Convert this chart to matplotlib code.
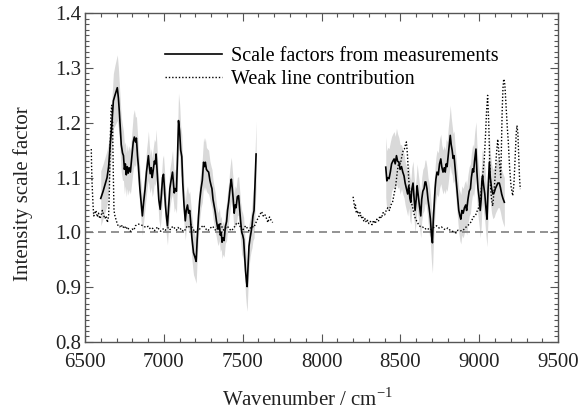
import numpy as np
import matplotlib
matplotlib.use("Agg")
import matplotlib.pyplot as plt
from matplotlib.lines import Line2D
from matplotlib.ticker import MultipleLocator

# scale factors from measurements, low-wavenumber window
left_x = [6600, 6615, 6630, 6640, 6650, 6660, 6670, 6680, 6690, 6705, 6712, 6718, 6724, 6730,
          6738, 6744, 6750, 6756, 6762, 6768, 6774, 6780, 6788, 6798, 6806, 6813, 6820, 6826,
          6833, 6839, 6848, 6856, 6864, 6872, 6881, 6890, 6897, 6902, 6908, 6914, 6920, 6926,
          6932, 6940, 6946, 6951, 6956, 6962, 6968, 6977, 6985, 6992, 6998, 7004, 7010, 7016,
          7023, 7030, 7038, 7046, 7055, 7061, 7066, 7072, 7080, 7087, 7093, 7100, 7107, 7114,
          7120, 7128, 7136, 7142, 7150, 7157, 7164, 7170, 7178, 7188, 7197, 7205, 7212, 7220,
          7228, 7236, 7244, 7252, 7258, 7263, 7270, 7277, 7284, 7292, 7300, 7305, 7312, 7318,
          7326, 7334, 7340, 7345, 7352, 7358, 7364, 7369, 7375, 7382, 7390, 7398, 7404, 7411,
          7418, 7424, 7428, 7434, 7440, 7446, 7452, 7458, 7466, 7474, 7480, 7487, 7494, 7500,
          7506, 7512, 7518, 7524, 7528, 7534, 7540, 7547, 7553, 7559, 7565, 7572, 7578, 7585]
left_y = [1.062, 1.075, 1.090, 1.100, 1.120, 1.160, 1.195, 1.240, 1.250, 1.264, 1.245, 1.220, 1.190, 1.160,
          1.145, 1.140, 1.115, 1.125, 1.105, 1.120, 1.108, 1.118, 1.110, 1.140, 1.165, 1.174, 1.165, 1.172,
          1.140, 1.120, 1.080, 1.055, 1.030, 1.055, 1.079, 1.110, 1.128, 1.140, 1.120, 1.107, 1.118, 1.100,
          1.112, 1.130, 1.125, 1.143, 1.120, 1.090, 1.060, 1.042, 1.070, 1.100, 1.106, 1.080, 1.050, 1.030,
          1.012, 1.045, 1.080, 1.095, 1.110, 1.090, 1.072, 1.080, 1.075, 1.140, 1.204, 1.185, 1.150, 1.138,
          1.090, 1.050, 1.021, 1.040, 1.050, 1.035, 1.040, 1.020, 0.990, 0.963, 0.955, 0.947, 0.990, 1.030,
          1.060, 1.080, 1.095, 1.128, 1.120, 1.128, 1.115, 1.112, 1.110, 1.095, 1.085, 1.080, 1.060, 1.050,
          1.037, 1.020, 1.010, 1.006, 1.015, 0.995, 1.000, 0.982, 0.990, 0.985, 1.010, 1.020, 1.040, 1.055,
          1.075, 1.090, 1.097, 1.080, 1.060, 1.035, 1.050, 1.045, 1.065, 1.067, 1.045, 1.020, 1.000, 0.995,
          0.987, 0.960, 0.930, 0.910, 0.901, 0.940, 0.975, 0.990, 1.000, 1.012, 1.030, 1.040, 1.090, 1.143]
left_err = [0.05, 0.05, 0.05, 0.05, 0.045, 0.045, 0.045, 0.05, 0.055, 0.06, 0.055, 0.05, 0.05, 0.05,
            0.05, 0.045, 0.045, 0.04, 0.04, 0.04, 0.04, 0.04, 0.04, 0.045, 0.05, 0.05, 0.045, 0.04,
            0.04, 0.035, 0.035, 0.035, 0.035, 0.035, 0.035, 0.04, 0.04, 0.045, 0.04, 0.035, 0.035, 0.035,
            0.04, 0.04, 0.04, 0.045, 0.04, 0.035, 0.035, 0.035, 0.035, 0.035, 0.035, 0.035, 0.035, 0.035,
            0.035, 0.035, 0.035, 0.035, 0.04, 0.035, 0.035, 0.035, 0.04, 0.045, 0.05, 0.05, 0.045, 0.04,
            0.035, 0.035, 0.035, 0.035, 0.035, 0.035, 0.035, 0.035, 0.04, 0.04, 0.04, 0.04, 0.035, 0.035,
            0.035, 0.035, 0.04, 0.045, 0.045, 0.045, 0.04, 0.04, 0.04, 0.035, 0.035, 0.035, 0.035, 0.035,
            0.035, 0.03, 0.03, 0.03, 0.03, 0.03, 0.03, 0.03, 0.03, 0.03, 0.03, 0.035, 0.035, 0.035,
            0.04, 0.04, 0.04, 0.035, 0.035, 0.035, 0.035, 0.035, 0.035, 0.035, 0.035, 0.035, 0.04, 0.04,
            0.04, 0.04, 0.045, 0.045, 0.045, 0.04, 0.04, 0.035, 0.035, 0.04, 0.045, 0.05, 0.055, 0.06]

# scale factors from measurements, high-wavenumber window
right_x = [8407, 8414, 8420, 8428, 8436, 8444, 8452, 8460, 8467, 8475, 8482, 8490, 8498, 8507,
           8515, 8523, 8530, 8538, 8546, 8553, 8560, 8566, 8572, 8580, 8586, 8593, 8600, 8606,
           8612, 8620, 8629, 8635, 8642, 8650, 8656, 8661, 8668, 8675, 8682, 8690, 8697, 8703,
           8708, 8714, 8720, 8725, 8732, 8740, 8748, 8756, 8762, 8770, 8778, 8784, 8790, 8796,
           8803, 8810, 8816, 8822, 8828, 8834, 8840, 8846, 8852, 8858, 8864, 8870, 8877, 8883,
           8890, 8898, 8906, 8914, 8920, 8928, 8936, 8944, 8950, 8958, 8964, 8970, 8979, 8985,
           8992, 9000, 9006, 9012, 9017, 9021, 9028, 9035, 9042, 9049, 9056, 9064, 9070, 9078,
           9086, 9095, 9102, 9110, 9118, 9127, 9134, 9142, 9150, 9159]
right_y = [1.119, 1.094, 1.100, 1.098, 1.110, 1.125, 1.130, 1.134, 1.125, 1.140, 1.130, 1.128, 1.115, 1.120,
           1.110, 1.103, 1.090, 1.080, 1.070, 1.085, 1.062, 1.055, 1.078, 1.090, 1.065, 1.040, 1.060, 1.085,
           1.070, 1.050, 1.030, 1.060, 1.075, 1.080, 1.092, 1.092, 1.080, 1.060, 1.045, 1.025, 0.995, 0.981,
           1.020, 1.050, 1.080, 1.097, 1.110, 1.105, 1.125, 1.134, 1.120, 1.110, 1.118, 1.110, 1.125, 1.120,
           1.140, 1.160, 1.177, 1.160, 1.150, 1.135, 1.140, 1.120, 1.100, 1.080, 1.060, 1.040, 1.030, 1.024,
           1.040, 1.035, 1.045, 1.050, 1.040, 1.060, 1.075, 1.080, 1.100, 1.116, 1.110, 1.130, 1.152, 1.110,
           1.080, 1.060, 1.040, 1.060, 1.095, 1.103, 1.085, 1.070, 1.045, 1.024, 1.080, 1.128, 1.100, 1.080,
           1.070, 1.073, 1.080, 1.085, 1.090, 1.090, 1.082, 1.070, 1.062, 1.055]
right_err = [0.055, 0.055, 0.055, 0.055, 0.055, 0.05, 0.05, 0.05, 0.05, 0.05, 0.05, 0.045, 0.045, 0.04,
             0.04, 0.04, 0.04, 0.04, 0.04, 0.04, 0.04, 0.04, 0.04, 0.04, 0.04, 0.04, 0.04, 0.04,
             0.04, 0.04, 0.04, 0.04, 0.04, 0.04, 0.04, 0.04, 0.04, 0.04, 0.045, 0.045, 0.05, 0.055,
             0.05, 0.045, 0.04, 0.04, 0.04, 0.04, 0.045, 0.045, 0.04, 0.04, 0.04, 0.04, 0.045, 0.045,
             0.05, 0.05, 0.055, 0.05, 0.045, 0.045, 0.045, 0.04, 0.04, 0.04, 0.04, 0.04, 0.045, 0.045,
             0.045, 0.045, 0.045, 0.045, 0.045, 0.045, 0.045, 0.045, 0.045, 0.045, 0.045, 0.05, 0.05, 0.05,
             0.05, 0.05, 0.05, 0.05, 0.05, 0.05, 0.05, 0.05, 0.05, 0.05, 0.05, 0.05, 0.045, 0.045,
             0.045, 0.045, 0.045, 0.045, 0.045, 0.045, 0.045, 0.045, 0.045, 0.045]

# weak line contribution
weak_left_x = [6540, 6542, 6545, 6548, 6552, 6556, 6562, 6570, 6578, 6586, 6594, 6602, 6610, 6618,
               6626, 6634, 6642, 6650, 6655, 6660, 6665, 6670, 6675, 6680, 6684, 6690, 6700, 6710,
               6720, 6730, 6740, 6750, 6760, 6770, 6780, 6790, 6800, 6810, 6820, 6830, 6840, 6850,
               6860, 6870, 6880, 6890, 6900, 6910, 6920, 6930, 6940, 6950, 6960, 6970, 6980, 6990,
               7000, 7010, 7020, 7030, 7040, 7050, 7060, 7070, 7080, 7090, 7100, 7110, 7120, 7130,
               7140, 7150, 7160, 7170, 7180, 7190, 7200, 7210, 7220, 7230, 7240, 7250, 7260, 7270,
               7280, 7290, 7300, 7310, 7320, 7330, 7340, 7350, 7360, 7370, 7380, 7390, 7400, 7410,
               7420, 7430, 7440, 7450, 7460, 7470, 7480, 7490, 7500, 7510, 7520, 7530, 7540, 7550,
               7560, 7570, 7580, 7590, 7600, 7610, 7620, 7630, 7640, 7650, 7660, 7670, 7680, 7690]
weak_left_y = [1.152, 1.120, 1.090, 1.070, 1.045, 1.030, 1.035, 1.040, 1.028, 1.035, 1.025, 1.030, 1.040, 1.032,
               1.025, 1.030, 1.018, 1.030, 1.080, 1.160, 1.220, 1.232, 1.200, 1.100, 1.040, 1.030, 1.020, 1.012,
               1.010, 1.014, 1.008, 1.012, 1.006, 1.010, 1.004, 1.002, 1.006, 1.004, 1.012, 1.014, 1.015, 1.014,
               1.013, 1.012, 1.010, 1.009, 1.011, 1.007, 1.009, 1.007, 1.003, 1.006, 1.010, 1.005, 1.002, 1.005,
               1.007, 1.004, 1.007, 1.009, 1.005, 1.009, 1.011, 1.007, 1.004, 1.009, 1.005, 1.007, 1.003, 1.002,
               1.008, 1.012, 1.010, 1.015, 1.008, 1.004, 1.000, 1.005, 1.003, 1.007, 1.010, 1.013, 1.009, 1.005,
               1.003, 1.007, 1.009, 1.011, 1.007, 1.003, 1.007, 1.013, 1.016, 1.009, 1.004, 1.007, 1.011, 1.009,
               1.005, 1.003, 1.007, 1.011, 1.016, 1.018, 1.013, 1.007, 1.003, 1.009, 1.012, 1.007, 1.003, 1.009,
               1.011, 1.009, 1.015, 1.022, 1.027, 1.033, 1.038, 1.030, 1.033, 1.026, 1.018, 1.028, 1.022, 1.018]
weak_right_x = [8200, 8205, 8210, 8215, 8220, 8228, 8236, 8244, 8252, 8260, 8268, 8276, 8284, 8292,
                8300, 8310, 8320, 8330, 8340, 8350, 8360, 8370, 8380, 8390, 8400, 8410, 8420, 8430,
                8440, 8450, 8460, 8470, 8480, 8490, 8500, 8510, 8518, 8525, 8532, 8538, 8545, 8552,
                8560, 8568, 8576, 8585, 8595, 8608, 8620, 8630, 8640, 8655, 8670, 8685, 8700, 8715,
                8730, 8745, 8760, 8775, 8788, 8800, 8815, 8830, 8845, 8852, 8865, 8880, 8895, 8910,
                8925, 8937, 8950, 8962, 8975, 8988, 9000, 9010, 9020, 9032, 9040, 9046, 9053, 9060,
                9066, 9072, 9078, 9085, 9092, 9100, 9108, 9117, 9123, 9130, 9136, 9140, 9145, 9150,
                9155, 9162, 9170, 9178, 9184, 9192, 9201, 9212, 9220, 9228, 9234, 9239, 9245, 9250,
                9255, 9260]
weak_right_y = [1.065, 1.055, 1.045, 1.050, 1.035, 1.040, 1.030, 1.036, 1.026, 1.030, 1.020, 1.025, 1.018, 1.022,
                1.016, 1.020, 1.014, 1.022, 1.016, 1.024, 1.020, 1.030, 1.026, 1.036, 1.032, 1.040, 1.045, 1.040,
                1.050, 1.055, 1.070, 1.085, 1.110, 1.130, 1.125, 1.140, 1.150, 1.152, 1.160, 1.165, 1.140, 1.100,
                1.070, 1.055, 1.048, 1.035, 1.025, 1.018, 1.012, 1.010, 1.010, 1.006, 1.008, 1.004, 1.006, 1.010,
                1.012, 1.008, 1.010, 1.006, 1.005, 1.008, 1.004, 1.002, 1.000, 0.999, 1.004, 1.003, 1.003, 1.008,
                1.012, 1.015, 1.020, 1.028, 1.030, 1.040, 1.048, 1.070, 1.100, 1.134, 1.180, 1.220, 1.250, 1.200,
                1.130, 1.080, 1.060, 1.048, 1.070, 1.100, 1.140, 1.170, 1.150, 1.120, 1.100, 1.150, 1.220, 1.262,
                1.280, 1.270, 1.230, 1.190, 1.165, 1.120, 1.085, 1.067, 1.090, 1.140, 1.180, 1.195, 1.180, 1.140,
                1.100, 1.079]

x_ticks = [6500, 7000, 7500, 8000, 8500, 9000, 9500]
y_ticks = [0.8, 0.9, 1.0, 1.1, 1.2, 1.3, 1.4]

plt.rcParams['font.family'] = ['Liberation Serif', 'DejaVu Serif']
plt.rcParams['mathtext.fontset'] = 'custom'
plt.rcParams['mathtext.rm'] = 'Liberation Serif'

fig = plt.figure(figsize=(5.82, 4.12), dpi=100)
ax = fig.add_axes([0.146, 0.170, 0.813, 0.798])

band_col = "#d9d9d9"
for xs, ys, es in [(left_x, left_y, left_err), (right_x, right_y, right_err)]:
    xs = np.array(xs)
    ys = np.array(ys)
    es = np.array(es)
    ax.fill_between(xs, ys - es, ys + es, color=band_col, lw=0, zorder=1)

ax.axhline(1.0, color="#808080", lw=1.2, dashes=(4.8, 3.0), zorder=2)

for xs, ys in [(weak_left_x, weak_left_y), (weak_right_x, weak_right_y)]:
    ax.plot(xs, ys, color="black", lw=1.0, ls=(0, (1, 1.4)), zorder=3)
for xs, ys in [(left_x, left_y), (right_x, right_y)]:
    ax.plot(xs, ys, color="black", lw=1.2, zorder=4)

ax.set_xlim(6500, 9500)
ax.set_ylim(0.8, 1.4)
ax.set_xticks(x_ticks)
ax.set_yticks(y_ticks)
ax.set_yticklabels([f"{v:.1f}" for v in y_ticks])
ax.xaxis.set_minor_locator(MultipleLocator(100))
ax.yaxis.set_minor_locator(MultipleLocator(0.01))

spine_col = "#555555"
for s in ax.spines.values():
    s.set_color(spine_col)
    s.set_linewidth(1.0)
ax.tick_params(which="both", direction="in", top=True, right=True, color=spine_col, width=0.8)
ax.tick_params(which="major", length=6, labelsize=15, labelcolor="#222222")
ax.tick_params(which="minor", length=3)
ax.tick_params(axis="x", which="major", pad=8)
ax.tick_params(axis="y", which="major", pad=3)

ax.set_xlabel(r"Wavenumber / cm$^{\mathregular{-1}}$", fontsize=15, color="#222222")
ax.set_ylabel("Intensity scale factor", fontsize=15, color="#222222")
ax.xaxis.set_label_coords(0.47, -0.14)
ax.yaxis.set_label_coords(-0.11, 0.45)

handles = [Line2D([], [], color="black", lw=1.2),
           Line2D([], [], color="black", lw=1.0, ls=(0, (1, 1.4)))]
labels = ["Scale factors from measurements", "Weak line contribution"]
fig.legend(handles, labels, loc="upper left", bbox_to_anchor=(0.2835, 0.885),
           frameon=False, fontsize=14.5, handlelength=2.85, handletextpad=0.45,
           borderpad=0, labelspacing=0.15, borderaxespad=0)

fig.savefig("out.png", dpi=100)
